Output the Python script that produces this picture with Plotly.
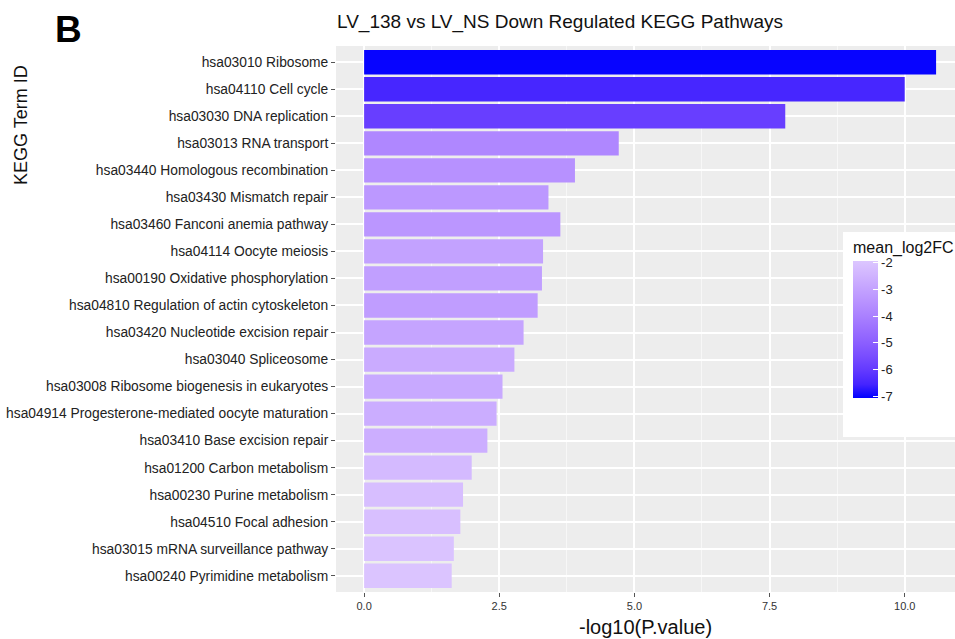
import numpy as np
import plotly.graph_objects as go

terms = [
    "hsa03010 Ribosome",
    "hsa04110 Cell cycle",
    "hsa03030 DNA replication",
    "hsa03013 RNA transport",
    "hsa03440 Homologous recombination",
    "hsa03430 Mismatch repair",
    "hsa03460 Fanconi anemia pathway",
    "hsa04114 Oocyte meiosis",
    "hsa00190 Oxidative phosphorylation",
    "hsa04810 Regulation of actin cytoskeleton",
    "hsa03420 Nucleotide excision repair",
    "hsa03040 Spliceosome",
    "hsa03008 Ribosome biogenesis in eukaryotes",
    "hsa04914 Progesterone-mediated oocyte maturation",
    "hsa03410 Base excision repair",
    "hsa01200 Carbon metabolism",
    "hsa00230 Purine metabolism",
    "hsa04510 Focal adhesion",
    "hsa03015 mRNA surveillance pathway",
    "hsa00240 Pyrimidine metabolism",
]
neg_log10_p = [10.58, 10.0, 7.79, 4.71, 3.90, 3.41, 3.63, 3.31, 3.29, 3.21,
               2.95, 2.78, 2.56, 2.45, 2.28, 1.99, 1.83, 1.78, 1.66, 1.62]
mean_log2fc = [-7.0, -6.5, -5.9, -3.8, -3.5, -3.3, -3.35, -3.0, -3.1, -3.15,
               -2.95, -2.75, -2.8, -2.7, -2.65, -2.3, -2.2, -2.15, -2.05, -2.0]
x_ticks = [0, 2.5, 5.0, 7.5, 10.0]
x_tick_labels = ["0.0", "2.5", "5.0", "7.5", "10.0"]
cbar_ticks = [-2, -3, -4, -5, -6, -7]

# Lab-space gradient (like ggplot2 scale_fill_gradient) from blue to lavender
def hex2rgb(h):
    h = h.lstrip("#")
    return np.array([int(h[i:i + 2], 16) for i in (0, 2, 4)]) / 255.0

def srgb2lin(c):
    return np.where(c <= 0.04045, c / 12.92, ((c + 0.055) / 1.055) ** 2.4)

def lin2srgb(c):
    c = np.clip(c, 0, 1)
    return np.where(c <= 0.0031308, c * 12.92, 1.055 * c ** (1 / 2.4) - 0.055)

M = np.array([[0.4124, 0.3576, 0.1805], [0.2126, 0.7152, 0.0722], [0.0193, 0.1192, 0.9505]])
Minv = np.linalg.inv(M)
WP = np.array([0.95047, 1.0, 1.08883])

def f(t):
    return np.where(t > 0.008856, np.cbrt(t), 7.787 * t + 16 / 116)

def finv(t):
    return np.where(t > 0.206893, t ** 3, (t - 16 / 116) / 7.787)

def rgb2lab(c):
    xyz = M @ srgb2lin(c) / WP
    fx, fy, fz = f(xyz)
    return np.array([116 * fy - 16, 500 * (fx - fy), 200 * (fy - fz)])

def lab2rgb(lab):
    L, a, b = lab
    fy = (L + 16) / 116
    fx = fy + a / 500
    fz = fy - b / 200
    xyz = np.array([finv(fx), finv(fy), finv(fz)]) * WP
    return lin2srgb(Minv @ xyz)

low = rgb2lab(hex2rgb("#0000FF"))
high = rgb2lab(hex2rgb("#DCC6FF"))
colorscale = []
for t in np.linspace(0, 1, 11):
    rgb = lab2rgb(low + (high - low) * t)
    r, g, b = (np.round(rgb * 255)).astype(int)
    colorscale.append([float(t), f"rgb({r},{g},{b})"])

font_family = "Liberation Sans, Arial, sans-serif"

# plot-area geometry (pixels)
PL, PR, PT, PB = 336, 955, 46, 592
PW, PH = PR - PL, PB - PT

def px_x(x):
    return (x - PL) / PW

def px_y(y):
    return (PB - y) / PH

fig = go.Figure()
fig.add_trace(go.Bar(
    x=neg_log10_p,
    y=terms,
    orientation="h",
    width=0.9,
    marker=dict(
        color=mean_log2fc,
        colorscale=colorscale,
        cmin=-7.05,
        cmax=-1.95,
        line=dict(width=0),
        colorbar=dict(
            title=dict(text="mean_log2FC", side="top", font=dict(size=16, color="#111", family=font_family)),
            tickvals=cbar_ticks,
            ticktext=[str(v) for v in cbar_ticks],
            tickfont=dict(size=13, color="#222", family=font_family),
            ticks="inside",
            tickcolor="white",
            ticklen=5,
            outlinewidth=0,
            thickness=25,
            thicknessmode="pixels",
            len=160,
            lenmode="pixels",
            x=px_x(853),
            xanchor="left",
            xpad=0,
            y=px_y(398),
            yanchor="bottom",
            ypad=0,
            bgcolor="rgba(0,0,0,0)",
        ),
    ),
    showlegend=False,
))

fig.update_layout(
    width=955,
    height=639,
    margin=dict(l=PL, r=955 - PR, t=PT, b=639 - PB),
    paper_bgcolor="white",
    plot_bgcolor="#EDEDED",
    font=dict(family=font_family),
    title=dict(
        text="LV_138 vs LV_NS Down Regulated KEGG Pathways",
        x=337 / 955, xanchor="left", xref="container",
        y=1 - 21 / 639, yanchor="middle", yref="container",
        font=dict(size=19, color="#111", family=font_family),
    ),
    xaxis=dict(
        range=[-0.52, 10.93],
        tickvals=x_ticks,
        ticktext=x_tick_labels,
        tickfont=dict(size=11, color="#333", family=font_family),
        ticks="outside", ticklen=4, tickcolor="#555",
        showgrid=True, gridcolor="white", gridwidth=1.6,
        minor=dict(dtick=1.25, tick0=1.25, showgrid=True, gridcolor="#F7F7F7", gridwidth=0.8),
        zeroline=False,
        showline=False,
    ),
    yaxis=dict(
        range=[19.6, -0.6],
        categoryorder="array",
        categoryarray=terms,
        tickfont=dict(size=13.8, color="#222", family=font_family),
        ticks="outside", ticklen=4, tickcolor="#555",
        showgrid=True, gridcolor="white", gridwidth=1.6,
        zeroline=False,
        showline=False,
        automargin=False,
    ),
    shapes=[
        dict(type="rect", xref="paper", yref="paper", layer="above",
             x0=px_x(843), x1=1.0, y0=px_y(437), y1=px_y(232),
             fillcolor="white", line=dict(width=0)),
    ],
    annotations=[
        dict(text="<b>B</b>", xref="paper", yref="paper",
             x=px_x(68), y=px_y(29), xanchor="center", yanchor="middle",
             showarrow=False, font=dict(size=37, color="black", family=font_family)),
        dict(text="KEGG Term ID", xref="paper", yref="paper", textangle=-90,
             x=px_x(21), y=px_y(125), xanchor="center", yanchor="middle",
             showarrow=False, font=dict(size=18, color="#111", family=font_family)),
        dict(text="-log10(P.value)", xref="paper", yref="paper",
             x=px_x(645), y=px_y(627), xanchor="center", yanchor="middle",
             showarrow=False, font=dict(size=20, color="#111", family=font_family)),
    ],
)

fig.write_html(
    "out.html",
    config={"displayModeBar": False},
    post_script="document.body.style.margin='0';document.body.style.overflow='hidden';",
)
